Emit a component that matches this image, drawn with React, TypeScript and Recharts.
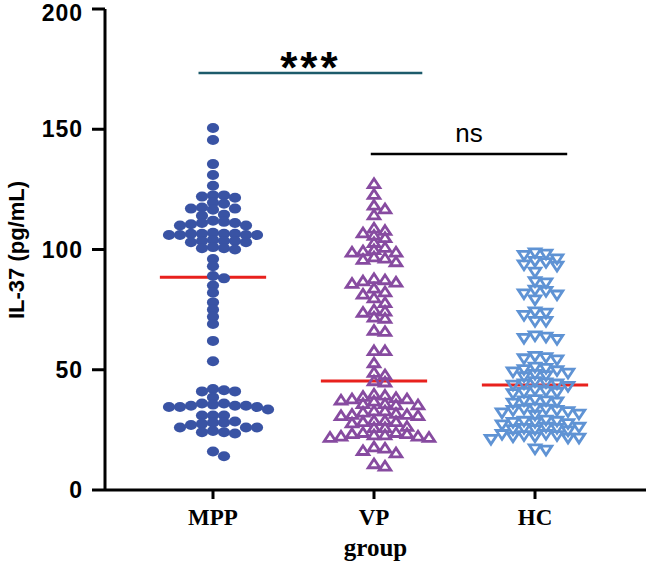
import { ScatterChart, Scatter, XAxis, YAxis, ReferenceLine } from 'recharts'

const groups = ['MPP', 'VP', 'HC']

const mppValues = [
  150.5, 145.5, 135.5, 131, 126.5,
  122.5, 122.5, 122, 121.5, 119.5, 119,
  117, 117, 116.5, 117.5, 114.5, 114,
  112, 111, 111, 110.5, 110, 110, 111.5,
  106.5, 106.5, 106, 106, 106.5, 107, 106, 106.5, 106,
  103.5, 103.5, 103, 103, 104, 103.5,
  101, 100.5, 100, 100.5,
  96, 93, 89, 88, 85, 82, 78, 75, 72, 69, 62, 53.5,
  42, 41.5, 41, 41, 38.5,
  36, 35, 34.5, 34.5, 34.5, 35, 35.5, 33.5, 36, 35,
  31, 31, 31,
  28, 28, 28.5, 27, 27.5, 26, 26, 26,
  24, 24.5, 23.5, 24, 16, 14,
]

const vpValues = [
  127.5, 123, 118.5, 117, 114.5,
  109, 108, 107, 106, 105, 103, 101,
  100, 99.5, 99, 99, 97, 96.5, 96, 95,
  88, 87.5, 87, 86.5, 86, 84, 82.5, 81.5, 80, 78,
  75, 74.5, 74, 72, 71.5, 66.5, 66, 58, 58, 53,
  49, 48, 45.5, 45,
  40, 39.5, 39, 38.5, 38, 38, 37.5, 37,
  36, 36, 35.5, 35.5,
  33, 33, 32.5, 32, 31.5, 31.5, 31, 31,
  29, 29, 28.5, 28.5, 28, 26.5, 26, 26,
  24, 24, 23.5, 23.5, 23, 23, 22.5, 22.5, 22, 22,
  18, 17.5, 16.5, 15.5, 11, 10,
]

const hcValues = [
  98.5, 98, 97.5, 96, 95, 94.5, 93.5, 93, 90.5,
  86.5, 86, 83, 82.5, 81.5, 81, 79,
  74, 73.5, 72.5, 70, 70, 64, 63.5, 63, 62.5,
  55.5, 55, 54.5, 54,
  51, 50.5, 50, 49.5, 49, 48.5, 48, 47.5, 47,
  45, 44.5, 44, 44, 43.5, 43,
  41.5, 41, 40.5, 40.5, 40,
  37.5, 37, 37, 36.5, 36,
  34, 33.5, 33.5, 33, 33, 32.5, 32, 31.5, 31,
  29, 28.5, 28.5, 28, 28, 27.5, 27,
  26, 26, 25.5, 25.5, 25, 25, 24.5,
  23, 23, 22.5, 22.5, 22, 22, 21.5, 21.5, 21,
  17, 16.5,
]

// horizontal red line per group
const centerLines = [88.5, 45.3, 43.7]
const yTicks = [0, 50, 100, 150, 200]

const comparisons = [
  { from: 0.91, to: 2.3, y: 173.4, text: '***', color: '#1d5b6b' },
  { from: 1.98, to: 3.2, y: 139.7, text: 'ns', color: '#000000' },
]

const sans = '"Liberation Sans", Arial, sans-serif'
const serif = '"Liberation Serif", "Times New Roman", serif'

const PX_PER_Y = 481 / 200
const PX_PER_X = 161

// simple beeswarm: push points sideways until they don't collide
const swarm = (values: number[], center: number) => {
  const placed: { dx: number; py: number }[] = []
  const out: { x: number; y: number }[] = []
  const sorted = [...values].sort((a, b) => b - a)
  for (const v of sorted) {
    const py = v * PX_PER_Y
    let k = 0
    for (let i = 0; i < 60; i++) {
      k = i === 0 ? 0 : i % 2 === 1 ? (i + 1) / 2 : -i / 2
      const dx = k * 5.5
      const hit = placed.some((p) => Math.abs(p.dx - dx) < 10.5 && Math.abs(p.py - py) < 7)
      if (!hit) break
    }
    placed.push({ dx: k * 5.5, py })
    out.push({ x: center + (k * 5.5) / PX_PER_X, y: v })
  }
  return out
}

const Dot = (p: any) => <ellipse cx={p.cx} cy={p.cy} rx={6.1} ry={5} fill="#3953a4" />
const Up = (p: any) => (
  <path
    d={`M${p.cx},${p.cy - 4.6}L${p.cx + 5.8},${p.cy + 4.2}L${p.cx - 5.8},${p.cy + 4.2}Z`}
    fill="none" stroke="#874ba0" strokeWidth={2.8} />
)
const Down = (p: any) => (
  <path
    d={`M${p.cx},${p.cy + 4.6}L${p.cx + 5.8},${p.cy - 4.2}L${p.cx - 5.8},${p.cy - 4.2}Z`}
    fill="none" stroke="#5f93d4" strokeWidth={2.8} />
)

const App = () => {
  const mpp = swarm(mppValues, 1)
  const vp = swarm(vpValues, 2)
  const hc = swarm(hcValues, 3)
  return (
    <div style={{ position: 'absolute', left: 0, top: 0 }}>
      <ScatterChart width={646} height={565} margin={{ top: 9, right: 0, bottom: 0, left: 0 }}>
        <XAxis type="number" dataKey="x" domain={[0.3292, 3.6894]} ticks={[1, 2, 3]} allowDataOverflow
          tickFormatter={(v) => groups[v - 1]} height={75} stroke="#000" strokeWidth={3}
          tickSize={9} tickMargin={10}
          tick={{ fill: '#000', fontFamily: serif, fontWeight: 700, fontSize: 23 }}
          label={{ value: 'group', position: 'insideBottom', offset: 9, fill: '#000',
            fontFamily: serif, fontWeight: 700, fontSize: 25 }} />
        <YAxis type="number" dataKey="y" domain={[0, 200]} ticks={yTicks} width={105}
          stroke="#000" strokeWidth={3} tickSize={13} tickMargin={9}
          tick={{ fill: '#000', fontFamily: sans, fontWeight: 700, fontSize: 23, letterSpacing: 1 }}
          label={() => (
            <text x={24} y={250} transform="rotate(-90 24 250)" textAnchor="middle" fill="#000"
              fontFamily={sans} fontWeight={700} fontSize={22}>
              IL-37 (pg/mL)
            </text>
          )} />
        <Scatter data={mpp} shape={Dot} isAnimationActive={false} />
        <Scatter data={vp} shape={Up} isAnimationActive={false} />
        <Scatter data={hc} shape={Down} isAnimationActive={false} />
        {centerLines.map((m, i) => (
          <ReferenceLine key={groups[i]} segment={[{ x: i + 1 - 0.33, y: m }, { x: i + 1 + 0.33, y: m }]}
            stroke="#e8211d" strokeWidth={3} />
        ))}
        {comparisons.map((c) => (
          <ReferenceLine key={c.text} segment={[{ x: c.from, y: c.y }, { x: c.to, y: c.y }]}
            stroke={c.color} strokeWidth={2.5}
            label={{ value: c.text, position: 'top', fill: '#000',
              offset: c.text === 'ns' ? 12 : -10,
              letterSpacing: c.text === 'ns' ? 0 : 3,
              fontFamily: sans,
              fontWeight: c.text === 'ns' ? 400 : 700, fontSize: c.text === 'ns' ? 26 : 44 }} />
        ))}
      </ScatterChart>
    </div>
  )
}

export default App
